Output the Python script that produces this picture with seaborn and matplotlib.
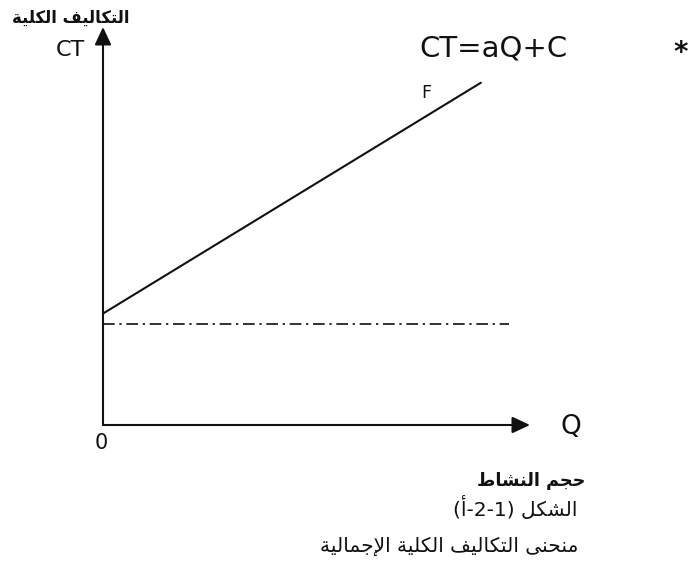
import matplotlib
matplotlib.use("Agg")
import matplotlib.pyplot as plt
import seaborn as sns
import pandas as pd

# ---- data -----------------------------------------------------------
q_total = [0.0, 8.85]          # activity volume Q at both ends of the CT line
ct_total = [2.8, 8.6]          # total cost CT = aQ + C
q_fixed = [0.0, 9.5]           # extent of the fixed-cost level
c_fixed = [2.55, 2.55]         # fixed cost C
q_axis_max = 10.0
ct_axis_max = 10.0

label_y = "التكاليف الكلية"
label_x = "حجم النشاط"
caption_1 = "الشكل (1-2-أ)"
caption_2 = "منحنى التكاليف الكلية الإجمالية"
equation = "CT=aQ+C"

# ---- minimal Arabic shaping (presentation forms, visual order) ------
FORMS = {
    'ا': ('\uFE8D', '\uFE8E', None, None),
    'أ': ('\uFE83', '\uFE84', None, None),
    'إ': ('\uFE87', '\uFE88', None, None),
    'ة': ('\uFE93', '\uFE94', None, None),
    'ى': ('\uFEEF', '\uFEF0', None, None),
    'ت': ('\uFE95', '\uFE96', '\uFE97', '\uFE98'),
    'ج': ('\uFE9D', '\uFE9E', '\uFE9F', '\uFEA0'),
    'ح': ('\uFEA1', '\uFEA2', '\uFEA3', '\uFEA4'),
    'ش': ('\uFEB5', '\uFEB6', '\uFEB7', '\uFEB8'),
    'ط': ('\uFEC1', '\uFEC2', '\uFEC3', '\uFEC4'),
    'ف': ('\uFED1', '\uFED2', '\uFED3', '\uFED4'),
    'ك': ('\uFED9', '\uFEDA', '\uFEDB', '\uFEDC'),
    'ل': ('\uFEDD', '\uFEDE', '\uFEDF', '\uFEE0'),
    'م': ('\uFEE1', '\uFEE2', '\uFEE3', '\uFEE4'),
    'ن': ('\uFEE5', '\uFEE6', '\uFEE7', '\uFEE8'),
    'ي': ('\uFEF1', '\uFEF2', '\uFEF3', '\uFEF4'),
}
LAM_ALEF = {'ا': ('\uFEFB', '\uFEFC'), 'أ': ('\uFEF7', '\uFEF8'),
            'إ': ('\uFEF9', '\uFEFA')}
MIRROR = {'(': ')', ')': '('}


def shape_arabic(text):
    # merge lam + alef into ligature tokens
    tokens = []
    i = 0
    while i < len(text):
        ch = text[i]
        if ch == 'ل' and i + 1 < len(text) and text[i + 1] in LAM_ALEF:
            tokens.append(('LA', text[i + 1]))
            i += 2
        else:
            tokens.append(('CH', ch))
            i += 1

    def is_arabic(tok):
        return tok[0] == 'LA' or tok[1] in FORMS

    def joins_forward(tok):
        return tok[0] == 'CH' and tok[1] in FORMS and FORMS[tok[1]][2] is not None

    out = []
    for k, tok in enumerate(tokens):
        prev_tok = tokens[k - 1] if k > 0 else None
        next_tok = tokens[k + 1] if k + 1 < len(tokens) else None
        join_prev = prev_tok is not None and joins_forward(prev_tok) and is_arabic(tok)
        if tok[0] == 'LA':
            iso, fin = LAM_ALEF[tok[1]]
            out.append(fin if join_prev else iso)
            continue
        ch = tok[1]
        if ch not in FORMS:
            out.append(MIRROR.get(ch, ch))
            continue
        join_next = joins_forward(tok) and next_tok is not None and is_arabic(next_tok)
        iso, fin, ini, med = FORMS[ch]
        if join_prev and join_next:
            out.append(med)
        elif join_prev:
            out.append(fin)
        elif join_next:
            out.append(ini)
        else:
            out.append(iso)
    return ''.join(reversed(out))


# ---- figure ----------------------------------------------------------
W, H = 697, 564
sns.set_theme(style="white")
plt.rcParams['font.family'] = ['DejaVu Sans']

fig = plt.figure(figsize=(W / 100, H / 100), dpi=100)
fig.patch.set_facecolor("white")


def fx(x):
    return x / W


def fy(y):
    return 1 - y / H


# axes box: Q=0 at x=103 px, Q=10 at x=530 px; CT=0 at y=425 px, CT=10 at y=27 px
ax = fig.add_axes([fx(103), fy(425), fx(530) - fx(103), fy(27) - fy(425)])
ax.set_xlim(0, q_axis_max)
ax.set_ylim(0, ct_axis_max)
ax.axis("off")

df_total = pd.DataFrame({"Q": q_total, "CT": ct_total})
df_fixed = pd.DataFrame({"Q": q_fixed, "C": c_fixed})

sns.lineplot(data=df_total, x="Q", y="CT", ax=ax, color="#111111",
             linewidth=1.5, clip_on=False)
sns.lineplot(data=df_fixed, x="Q", y="C", ax=ax, color="#111111",
             linewidth=1.2, linestyle=(0, (7, 2.8, 1.4, 2.8)), clip_on=False)

arrow = dict(arrowstyle="-|>,head_length=0.9,head_width=0.42",
             color="#111111", lw=1.5, mutation_scale=12,
             shrinkA=0, shrinkB=0)
ax.annotate("", xy=(q_axis_max, 0), xytext=(0, 0), arrowprops=arrow,
            annotation_clip=False)
ax.annotate("", xy=(0, ct_axis_max), xytext=(0, 0), arrowprops=arrow,
            annotation_clip=False)

ink = "#111111"
fig.text(fx(130), fy(18), shape_arabic(label_y), ha="right", va="center",
         fontsize=11.9, fontweight="bold", color=ink)
fig.text(fx(70), fy(50), "CT", ha="center", va="center", fontsize=16, color=ink)
fig.text(fx(419), fy(49), equation, ha="left", va="center", fontsize=21,
         color=ink)
fig.text(fx(421), fy(93), "F", ha="left", va="center", fontsize=12.5, color=ink)
fig.text(fx(681), fy(53), "*", ha="center", va="center", fontsize=20,
         fontweight="bold", color=ink)
fig.text(fx(101), fy(443), "0", ha="center", va="center", fontsize=15, color=ink)
fig.text(fx(571), fy(427), "Q", ha="center", va="center", fontsize=19, color=ink)
fig.text(fx(585), fy(481), shape_arabic(label_x), ha="right", va="center",
         fontsize=12.7, fontweight="bold", color=ink)
fig.text(fx(577), fy(508), shape_arabic(caption_1), ha="right", va="center",
         fontsize=14.5, color=ink)
fig.text(fx(578), fy(546), shape_arabic(caption_2), ha="right", va="center",
         fontsize=14.5, color=ink)

fig.savefig("out.png", dpi=100, facecolor="white")
